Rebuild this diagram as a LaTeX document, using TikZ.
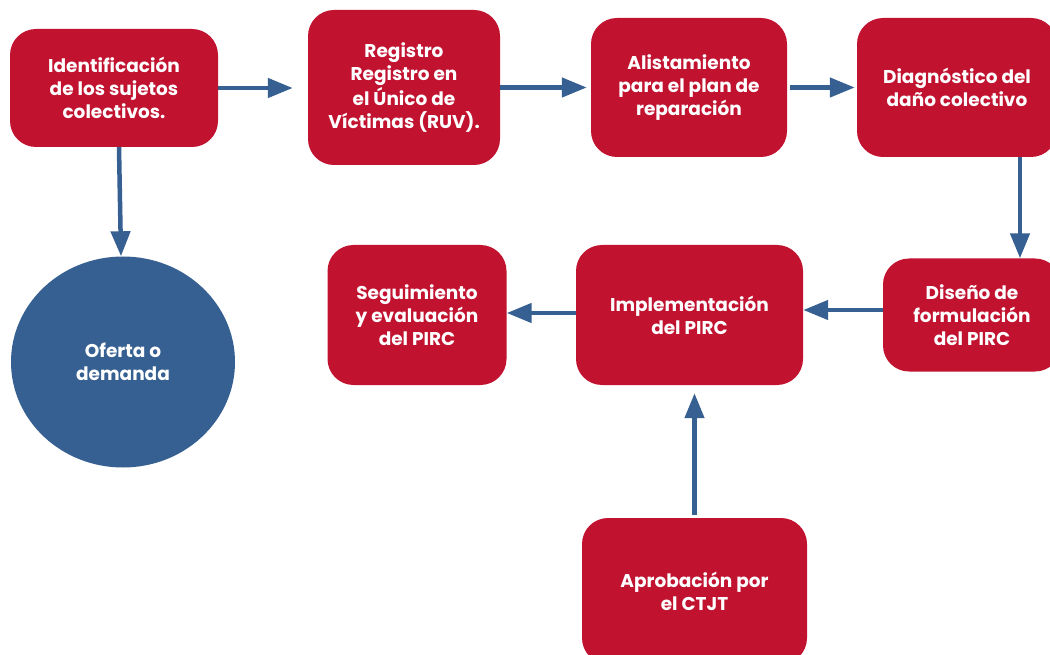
\documentclass[tikz,border=0pt]{standalone}
\usepackage{fontspec}
\setmainfont{Poppins}
\usetikzlibrary{arrows.meta,shapes.geometric}
\definecolor{boxred}{RGB}{193,18,48}
\definecolor{flowblue}{RGB}{54,96,145}
\begin{document}
\begin{tikzpicture}[x=1pt,y=-1pt,
  stepbox/.style={fill=boxred, rounded corners=26pt, text=white, align=center,
    font=\fontsize{18.5}{23}\selectfont\bfseries, inner sep=0pt},
  flow/.style={draw=flowblue, line width=4.5pt,
    -{Triangle[length=25pt,width=19pt]}},
]
\clip (0,0) rectangle (1050,655);
\fill[white] (0,0) rectangle (1050,655);
% boxes
\node[stepbox, minimum width=208pt, minimum height=118pt] (ident) at (114,88)
  {Identificación\\de los sujetos\\colectivos.};
\node[stepbox, minimum width=192pt, minimum height=155pt] (reg) at (404,87.5)
  {Registro\\Registro en\\el Único de\\Víctimas (RUV).};
\node[stepbox, minimum width=196pt, minimum height=139pt] (alist) at (689,87.5)
  {Alistamiento\\para el plan de\\reparación};
\node[stepbox, minimum width=200pt, minimum height=139pt] (diag) at (957,87.5)
  {Diagnóstico del\\daño colectivo};
\node[stepbox, minimum width=178pt, minimum height=113pt] (dis) at (972,315)
  {Diseño de\\formulación\\del PIRC};
\node[stepbox, minimum width=227pt, minimum height=140pt] (impl) at (689.5,315)
  {Implementación\\del PIRC};
\node[stepbox, minimum width=179pt, minimum height=140pt] (seg) at (417,315)
  {Seguimiento\\y evaluación\\del PIRC};
\node[stepbox, minimum width=225pt, minimum height=146pt] (aprob) at (694.5,591)
  {Aprobación por\\el CTJT};
\node[ellipse, fill=flowblue, text=white, align=center, inner sep=0pt,
  minimum width=224pt, minimum height=211pt,
  font=\fontsize{18.5}{23}\selectfont\bfseries] (ofer) at (123,362)
  {Oferta o\\demanda};
% connectors
\draw[flow, shorten >=15pt] (ident.east) -- (reg.west |- ident.east);
\draw[flow, shorten >=4pt] (reg.east) -- (alist.west);
\draw[flow, shorten <=3pt, shorten >=2pt] (alist.east) -- (diag.west);
\draw[flow] ([xshift=63pt]diag.south) -- ([xshift=48pt]dis.north);
\draw[flow] ([yshift=5pt]dis.west) -- ([yshift=5pt]impl.east);
\draw[flow] ([yshift=2pt]impl.west) -- ([yshift=2pt]seg.east);
\draw[flow, shorten <=3pt, shorten >=8pt] (aprob.north) -- (aprob.north |- impl.south);
\draw[flow] ([xshift=5pt]ident.south) -- ([xshift=-2pt]ofer.north);
\end{tikzpicture}
\end{document}
